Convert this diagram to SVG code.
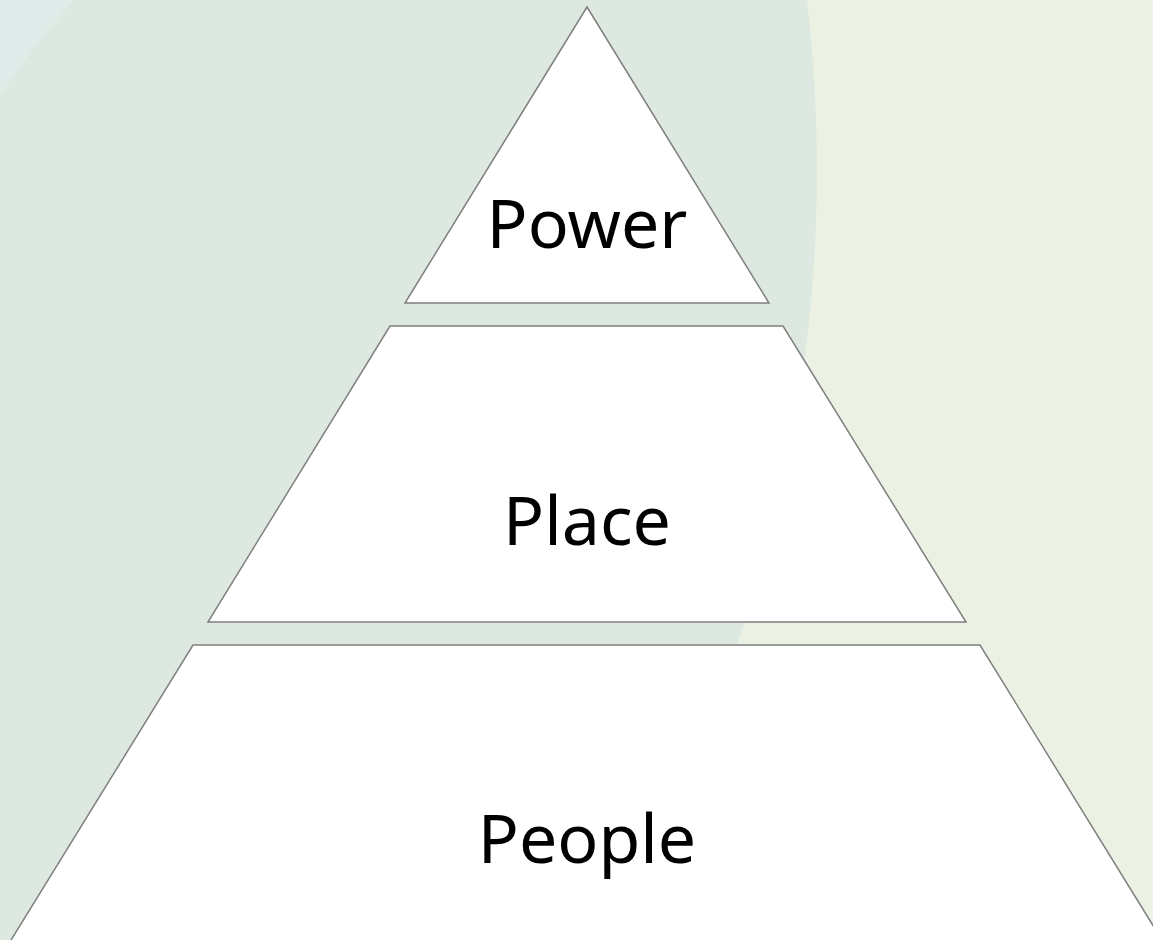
<svg xmlns="http://www.w3.org/2000/svg" width="1153" height="940" viewBox="0 0 1153 940">
<style>
.lvl{fill:#ffffff;stroke:#7f7f7f;stroke-width:1.5;stroke-linejoin:miter}
.lbl{font-family:"Noto Sans","Open Sans","Liberation Sans",sans-serif;font-size:68px;fill:#000000;text-anchor:middle}
</style>
<rect x="0" y="0" width="1153" height="940" fill="#ebf2e4"/>
<circle cx="-633" cy="170" r="1450" fill="#dde9e0"/>
<path d="M0,0 L74,0 Q30,50 0,96 Z" fill="#e0ecea"/>
<g id="power">
<polygon class="lvl" points="587,7 769,303 405,303"/>
<text class="lbl" x="587" y="248">Power</text>
</g>
<g id="place">
<polygon class="lvl" points="390,326 783,326 966,622 208,622"/>
<text class="lbl" x="587" y="545">Place</text>
</g>
<g id="people">
<polygon class="lvl" points="193,645 980,645 1165,945 8,945"/>
<text class="lbl" x="587" y="863">People</text>
</g>
<g id="connectors"></g>
</svg>
